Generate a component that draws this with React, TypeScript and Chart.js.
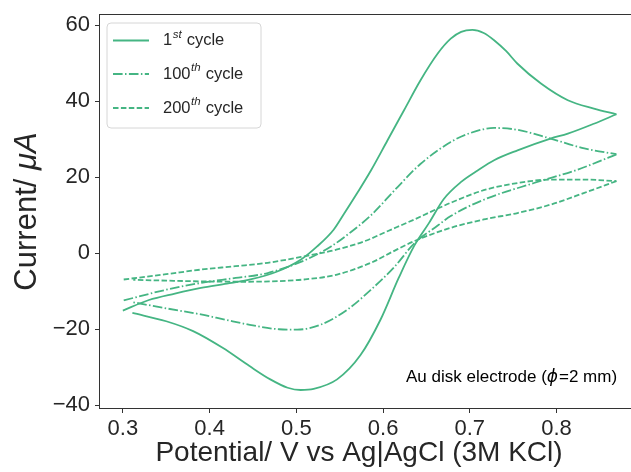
import React, { useEffect, useRef } from 'react';
import { Chart, registerables } from 'chart.js';

Chart.register(...registerables);

// ---- axis ticks ----
const xTickValues = [0.3, 0.4, 0.5, 0.6, 0.7, 0.8];
const xTickLabels = ['0.3', '0.4', '0.5', '0.6', '0.7', '0.8'];
const yTickValues = [-40, -20, 0, 20, 40, 60];
const yTickLabels = ['\u221240', '\u221220', '0', '20', '40', '60'];

// ---- 1st cycle ----
const cycle1ForwardV = [0.300, 0.330, 0.360, 0.390, 0.420, 0.447, 0.478, 0.505, 0.524, 0.543, 0.555, 0.570, 0.586, 0.605, 0.624, 0.643, 0.663, 0.678, 0.690, 0.703, 0.716, 0.728, 0.742, 0.755, 0.782, 0.813, 0.843, 0.869];
const cycle1ForwardI = [-15.1, -12.3, -10.6, -9.1, -8.0, -6.9, -4.8, -1.7, 1.8, 6.2, 10.4, 15.8, 21.8, 29.7, 37.6, 45.5, 52.6, 56.5, 58.3, 58.8, 58.0, 56.1, 53.2, 49.9, 44.7, 40.3, 38.1, 36.6];
const cycle1ReverseV = [0.869, 0.843, 0.813, 0.793, 0.755, 0.728, 0.709, 0.690, 0.670, 0.653, 0.636, 0.618, 0.597, 0.574, 0.547, 0.520, 0.505, 0.490, 0.470, 0.446, 0.415, 0.381, 0.350, 0.311];
const cycle1ReverseI = [36.6, 34.1, 31.5, 30.2, 27.1, 24.5, 21.8, 18.8, 14.3, 8.0, 2.0, -6.5, -17.5, -26.8, -33.2, -35.7, -36.0, -35.4, -33.2, -29.7, -24.9, -20.5, -17.9, -15.7];

// ---- 100th cycle ----
const cycle100ForwardV = [0.301, 0.350, 0.390, 0.430, 0.467, 0.513, 0.540, 0.563, 0.586, 0.617, 0.643, 0.678, 0.701, 0.728, 0.755, 0.793, 0.832, 0.869];
const cycle100ForwardI = [-12.4, -9.6, -7.8, -6.5, -5.2, -1.5, 1.8, 5.6, 10.0, 17.5, 23.5, 29.3, 31.7, 33.0, 32.5, 30.2, 27.6, 26.1];
const cycle100ReverseV = [0.869, 0.859, 0.824, 0.774, 0.716, 0.678, 0.663, 0.636, 0.613, 0.586, 0.559, 0.528, 0.501, 0.480, 0.450, 0.420, 0.390, 0.350, 0.312];
const cycle100ReverseI = [26.0, 25.1, 22.0, 18.5, 14.1, 9.8, 7.3, 2.6, -3.6, -9.6, -14.8, -18.8, -20.1, -20.0, -19.0, -17.6, -16.1, -14.5, -12.9];

// ---- 200th cycle ----
const cycle200ForwardV = [0.301, 0.350, 0.390, 0.430, 0.467, 0.509, 0.547, 0.580, 0.605, 0.636, 0.678, 0.716, 0.755, 0.793, 0.832, 0.869];
const cycle200ForwardI = [-6.9, -5.5, -4.3, -3.4, -2.5, -0.8, 1.0, 3.3, 5.8, 8.9, 13.3, 16.6, 18.5, 19.4, 19.4, 19.0];
const cycle200ReverseV = [0.869, 0.832, 0.793, 0.755, 0.716, 0.678, 0.636, 0.610, 0.586, 0.547, 0.509, 0.470, 0.430, 0.390, 0.350, 0.312];
const cycle200ReverseI = [19.0, 15.9, 12.8, 10.6, 8.9, 6.7, 3.2, 0.3, -2.5, -5.6, -6.9, -7.4, -7.5, -7.4, -7.2, -7.0];

// ---- legend / labels ----
const legendBase = ['1', '100', '200'];
const legendSup = ['st', 'th', 'th'];
const legendTail = ' cycle';
const xTitle = 'Potential/ V vs Ag|AgCl (3M KCl)';
const yTitleMain = 'Current/ ';
const yTitleItalic = '\u03bcA';
const noteBefore = 'Au disk electrode (';
const notePhi = '\u03d5';
const noteAfter = '=2 mm)';

const LINE_COLOR = '#45b583';
const TEXT_COLOR = '#262626';
const FRAME_COLOR = '#333333';
const FONT = "'Liberation Sans', Arial, sans-serif";
const LINE_WIDTH = 1.8;
const DASHES: number[][] = [[], [9.6, 2.4, 1.5, 2.4], [5.5, 2.4]];

const toPoints = (xs: number[], ys: number[]) => xs.map((x, i) => ({ x, y: ys[i] }));

const decorPlugin = {
  id: 'decor',
  afterDraw(chart: any) {
    const ctx: CanvasRenderingContext2D = chart.ctx;
    const a = chart.chartArea;
    ctx.save();

    // frame
    ctx.strokeStyle = FRAME_COLOR;
    ctx.lineWidth = 1;
    ctx.setLineDash([]);
    ctx.strokeRect(Math.round(a.left) + 0.5, Math.round(a.top) + 0.5, Math.round(a.right - a.left), Math.round(a.bottom - a.top) - 1);

    // legend box
    const bx = 107, by = 23, bw = 154, bh = 105, r = 4;
    ctx.beginPath();
    ctx.moveTo(bx + r, by);
    ctx.lineTo(bx + bw - r, by);
    ctx.arcTo(bx + bw, by, bx + bw, by + r, r);
    ctx.lineTo(bx + bw, by + bh - r);
    ctx.arcTo(bx + bw, by + bh, bx + bw - r, by + bh, r);
    ctx.lineTo(bx + r, by + bh);
    ctx.arcTo(bx, by + bh, bx, by + bh - r, r);
    ctx.lineTo(bx, by + r);
    ctx.arcTo(bx, by, bx + r, by, r);
    ctx.closePath();
    ctx.fillStyle = 'rgba(255,255,255,0.8)';
    ctx.fill();
    ctx.strokeStyle = '#d6d6d6';
    ctx.lineWidth = 1;
    ctx.stroke();

    const rows = [40.5, 74, 108];
    for (let i = 0; i < 3; i++) {
      const y = rows[i];
      ctx.beginPath();
      ctx.setLineDash(DASHES[i]);
      ctx.strokeStyle = LINE_COLOR;
      ctx.lineWidth = LINE_WIDTH;
      ctx.moveTo(113, y);
      ctx.lineTo(149, y);
      ctx.stroke();
      ctx.setLineDash([]);
      ctx.fillStyle = TEXT_COLOR;
      ctx.textBaseline = 'middle';
      ctx.textAlign = 'left';
      let x = 163;
      ctx.font = `16.5px ${FONT}`;
      ctx.fillText(legendBase[i], x, y);
      x += ctx.measureText(legendBase[i]).width + 0.5;
      ctx.font = `italic 11.5px ${FONT}`;
      ctx.fillText(legendSup[i], x, y - 6);
      x += ctx.measureText(legendSup[i]).width + 0.5;
      ctx.font = `16.5px ${FONT}`;
      ctx.fillText(legendTail, x, y);
    }

    // annotation
    ctx.textBaseline = 'alphabetic';
    ctx.textAlign = 'left';
    ctx.fillStyle = '#000000';
    let nx = 406;
    const ny = 382;
    ctx.font = `17px ${FONT}`;
    ctx.fillText(noteBefore, nx, ny);
    nx += ctx.measureText(noteBefore).width;
    ctx.font = `italic 17px 'DejaVu Sans', ${FONT}`;
    ctx.fillText(notePhi, nx, ny);
    nx += ctx.measureText(notePhi).width + 1;
    ctx.font = `17px ${FONT}`;
    ctx.fillText(noteAfter, nx, ny);

    // x title
    ctx.fillStyle = TEXT_COLOR;
    ctx.font = `28px ${FONT}`;
    ctx.textAlign = 'center';
    ctx.fillText(xTitle, 359, 461);

    // y title
    ctx.save();
    ctx.translate(35.5, (a.top + a.bottom) / 2);
    ctx.rotate(-Math.PI / 2);
    ctx.textAlign = 'left';
    ctx.font = `31px ${FONT}`;
    const w1 = ctx.measureText(yTitleMain).width;
    ctx.font = `italic 31px ${FONT}`;
    const w2 = ctx.measureText(yTitleItalic).width;
    const start = -(w1 + w2) / 2;
    ctx.font = `31px ${FONT}`;
    ctx.fillText(yTitleMain, start, 0);
    ctx.font = `italic 31px ${FONT}`;
    ctx.fillText(yTitleItalic, start + w1, 0);
    ctx.restore();

    ctx.restore();
  },
};

export default function App() {
  const canvasRef = useRef<HTMLCanvasElement | null>(null);

  useEffect(() => {
    const canvas = canvasRef.current;
    if (!canvas) return;
    const mk = (xs: number[], ys: number[], cyc: number) => ({
      data: toPoints(xs, ys),
      borderColor: LINE_COLOR,
      backgroundColor: LINE_COLOR,
      borderWidth: LINE_WIDTH,
      borderDash: DASHES[cyc],
      pointRadius: 0,
      pointHoverRadius: 0,
      cubicInterpolationMode: 'monotone',
      fill: false,
    });
    const chart = new Chart(canvas, {
      type: 'line',
      data: {
        datasets: [
          mk(cycle1ForwardV, cycle1ForwardI, 0),
          mk(cycle1ReverseV, cycle1ReverseI, 0),
          mk(cycle100ForwardV, cycle100ForwardI, 1),
          mk(cycle100ReverseV, cycle100ReverseI, 1),
          mk(cycle200ForwardV, cycle200ForwardI, 2),
          mk(cycle200ReverseV, cycle200ReverseI, 2),
        ],
      },
      options: {
        animation: false,
        responsive: false,
        devicePixelRatio: 1,
        events: [],
        layout: { padding: { top: 14, right: 4, bottom: 0, left: 0 } },
        plugins: {
          legend: { display: false },
          tooltip: { enabled: false },
          title: { display: false },
        },
        scales: {
          x: {
            type: 'linear',
            min: 0.2725,
            max: 0.8985,
            afterBuildTicks: (scale: any) => {
              scale.ticks = xTickValues.map((v) => ({ value: v }));
            },
            afterFit: (scale: any) => {
              scale.height = 63;
              scale.paddingLeft = 0;
              scale.paddingRight = 0;
            },
            ticks: {
              callback: (_v: any, i: number) => xTickLabels[i],
              color: TEXT_COLOR,
              font: { family: FONT, size: 22 },
              padding: 3,
              maxRotation: 0,
              autoSkip: false,
            },
            grid: { drawOnChartArea: false, drawTicks: true, tickLength: 4, tickColor: FRAME_COLOR, lineWidth: 1 },
            border: { display: false },
          },
          y: {
            type: 'linear',
            min: -41,
            max: 63,
            afterBuildTicks: (scale: any) => {
              scale.ticks = yTickValues.map((v) => ({ value: v }));
            },
            afterFit: (scale: any) => {
              scale.width = 99;
              scale.paddingTop = 0;
              scale.paddingBottom = 0;
            },
            ticks: {
              callback: (_v: any, i: number) => yTickLabels[i],
              color: TEXT_COLOR,
              font: { family: FONT, size: 22 },
              padding: 5,
              autoSkip: false,
            },
            grid: { drawOnChartArea: false, drawTicks: true, tickLength: 4, tickColor: FRAME_COLOR, lineWidth: 1 },
            border: { display: false },
          },
        },
      } as any,
      plugins: [decorPlugin],
    });
    return () => chart.destroy();
  }, []);

  return (
    <div style={{ position: 'fixed', left: 0, top: 0, width: 631, height: 472, overflow: 'hidden', background: '#ffffff' }}>
      <canvas ref={canvasRef} width={646} height={472} style={{ display: 'block', width: 646, height: 472 }} />
    </div>
  );
}
